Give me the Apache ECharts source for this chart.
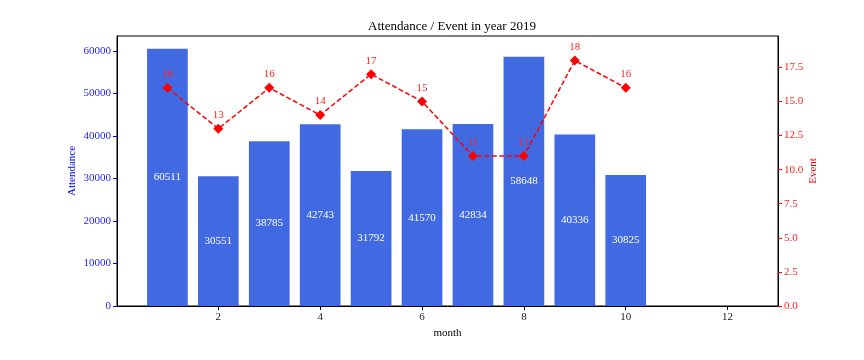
<!DOCTYPE html>
<html><head><meta charset="utf-8">
<script src="https://cdn.jsdelivr.net/npm/echarts@6/dist/echarts.min.js"></script>
<style>html,body{margin:0;padding:0;background:#fff}#c{width:864px;height:360px}</style>
</head><body><div id="c"></div>
<script>
const months = [1,2,3,4,5,6,7,8,9,10];
const attendance = [60511,30551,38785,42743,31792,41570,42834,58648,40336,30825];
const events = [16,13,16,14,17,15,11,11,18,16];
const xTicks = [2,4,6,8,10,12];
const leftTicks = [0,10000,20000,30000,40000,50000,60000];
const rightTicks = [0,2.5,5,7.5,10,12.5,15,17.5];

const FONT = '"Liberation Serif", "DejaVu Serif", serif';
const chart = echarts.init(document.getElementById('c'));
chart.setOption({
  animation: false,
  backgroundColor: '#fff',
  textStyle: {fontFamily: FONT},
  title: {text: 'Attendance / Event in year 2019', left: 447, top: 15, textAlign: 'center',
    textStyle: {fontFamily: FONT, fontSize: 13, fontWeight: 'normal', color: '#000'}},
  grid: {left: 117, right: 86, top: 36, bottom: 54, show: true, borderColor: '#000', borderWidth: 1, backgroundColor: 'transparent'},
  xAxis: {type: 'value', min: 0.01, max: 12.99, name: 'month', nameLocation: 'middle', nameGap: 22,
    nameMoveOverlap: false,
    nameTextStyle: {fontFamily: FONT, fontSize: 11, color: '#000'},
    splitLine: {show: false},
    axisLine: {show: true, lineStyle: {color: '#000'}},
    axisTick: {show: true, length: 4, customValues: xTicks, lineStyle: {color: '#000'}},
    axisLabel: {customValues: xTicks, fontFamily: FONT, fontSize: 11, color: '#222', margin: 6}},
  yAxis: [
    {type: 'value', min: 0, max: 63537, name: 'Attendance', nameLocation: 'middle', nameGap: 39,
      nameMoveOverlap: false,
      nameTextStyle: {fontFamily: FONT, fontSize: 11, color: '#0000ff'},
      splitLine: {show: false},
      axisLine: {show: true, lineStyle: {color: '#000'}},
      axisTick: {show: true, length: 4, customValues: leftTicks, lineStyle: {color: '#0000ff'}},
      axisLabel: {customValues: leftTicks, fontFamily: FONT, fontSize: 11, color: '#2222ff', margin: 6,
        formatter: v => String(v)}},
    {type: 'value', min: 0, max: 19.8, name: 'Event', nameLocation: 'middle', nameGap: 30, position: 'right',
      nameMoveOverlap: false,
      nameTextStyle: {fontFamily: FONT, fontSize: 11, color: '#ff0000'},
      splitLine: {show: false},
      axisLine: {show: true, lineStyle: {color: '#000'}},
      axisTick: {show: true, length: 4, customValues: rightTicks, lineStyle: {color: '#ff0000'}},
      axisLabel: {customValues: rightTicks, fontFamily: FONT, fontSize: 11, color: '#ff2222', margin: 6,
        formatter: v => Number(v).toFixed(1)}}
  ],
  series: [
    {type: 'bar', xAxisIndex: 0, yAxisIndex: 0, barWidth: 40.7,
      data: months.map((m, i) => [m, attendance[i]]),
      itemStyle: {color: '#4169E1'},
      label: {show: true, position: 'inside', color: '#fff', fontFamily: FONT, fontSize: 11,
        formatter: p => String(p.value[1])}},
    {type: 'line', xAxisIndex: 0, yAxisIndex: 1, zlevel: 1, z: 10,
      data: months.map((m, i) => [m, events[i]]),
      lineStyle: {color: '#ff0000', width: 1.5, type: [5, 2.5]},
      itemStyle: {color: '#ff0000'},
      symbol: 'diamond', symbolSize: [10, 10],
      labelLayout: {hideOverlap: false},
      label: {show: true, position: 'top', distance: 3, color: '#ff2222', fontFamily: FONT, fontSize: 11}}
  ]
});
</script></body></html>
